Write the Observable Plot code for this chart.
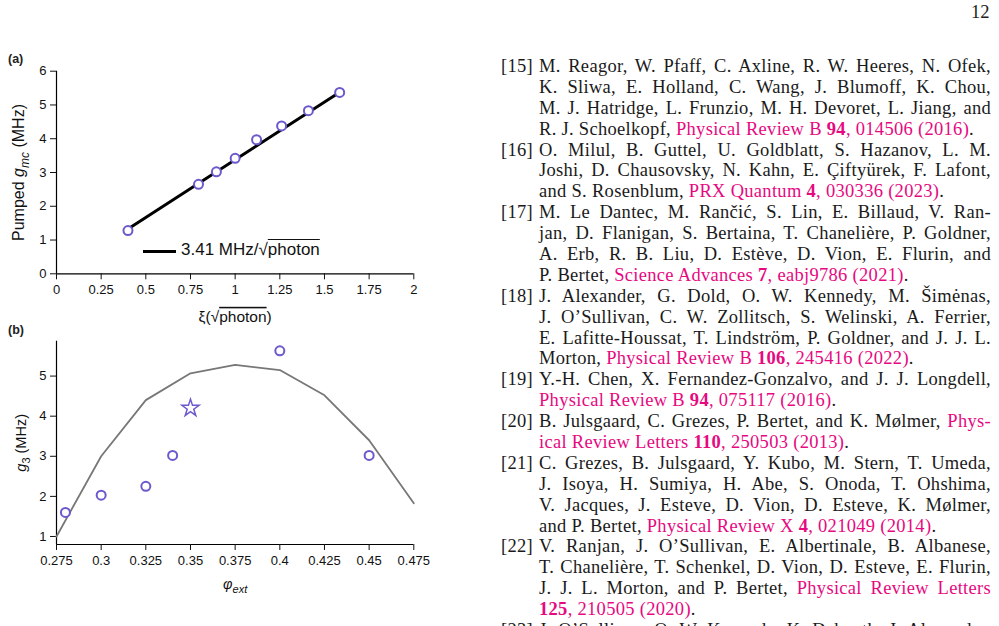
<!DOCTYPE html>
<html><head><meta charset="utf-8">
<script src="https://cdn.jsdelivr.net/npm/d3@7"></script>
<script src="https://cdn.jsdelivr.net/npm/@observablehq/plot@0.6"></script>
<style>
body{margin:0;width:999px;height:626px;overflow:hidden;background:#fff;position:relative;font-family:"Liberation Sans",Arial,sans-serif;color:#111}
.abs{position:absolute}
.panel{position:absolute;font-weight:bold;font-size:12.5px;color:#222}
#refs{position:absolute;left:539px;top:56px;width:452px;font-family:"Liberation Serif","Times New Roman",serif;font-size:18.5px;letter-spacing:0.3px;color:#1a1a1a}
.ln{height:20.9px;line-height:20.9px;white-space:nowrap;text-align:justify;text-align-last:justify;position:relative}
.ln.last{text-align:left;text-align-last:left}
.num{position:absolute;right:458px;text-align:right;text-align-last:right}
.lk{color:#e6097f}
#pageno{position:absolute;left:971px;top:2px;font-family:"Liberation Serif",serif;font-size:18.5px;color:#222}
#legA{position:absolute;left:143px;top:239px;font-size:17px;white-space:nowrap}
#legA .bar{position:absolute;left:0;top:11px;width:33px;height:3px;background:#000}
#legA .txt{position:absolute;left:38px;top:0;line-height:22px}
.ov{text-decoration:overline}
</style>
</head><body>
<div id="pageno">12</div>
<div class="panel" style="left:8px;top:52px">(a)</div>
<div class="panel" style="left:8px;top:323px">(b)</div>
<div id="plotA" class="abs" style="left:0;top:50px"></div>
<div id="plotB" class="abs" style="left:0;top:320px"></div>
<div id="legA"><div class="bar"></div><div class="txt">3.41 MHz/√<span class="ov">photon</span></div></div>
<div id="refs">
<div class="ln"><span class="num">[15]</span>M. Reagor, W. Pfaff, C. Axline, R. W. Heeres, N. Ofek,</div>
<div class="ln">K. Sliwa, E. Holland, C. Wang, J. Blumoff, K. Chou,</div>
<div class="ln">M. J. Hatridge, L. Frunzio, M. H. Devoret, L. Jiang, and</div>
<div class="ln last">R. J. Schoelkopf, <span class="lk">Physical Review B <b>94</b>, 014506 (2016)</span>.</div>
<div class="ln"><span class="num">[16]</span>O. Milul, B. Guttel, U. Goldblatt, S. Hazanov, L. M.</div>
<div class="ln">Joshi, D. Chausovsky, N. Kahn, E. Çiftyürek, F. Lafont,</div>
<div class="ln last">and S. Rosenblum, <span class="lk">PRX Quantum <b>4</b>, 030336 (2023)</span>.</div>
<div class="ln"><span class="num">[17]</span>M. Le Dantec, M. Rančić, S. Lin, E. Billaud, V. Ran-</div>
<div class="ln">jan, D. Flanigan, S. Bertaina, T. Chanelière, P. Goldner,</div>
<div class="ln">A. Erb, R. B. Liu, D. Estève, D. Vion, E. Flurin, and</div>
<div class="ln last">P. Bertet, <span class="lk">Science Advances <b>7</b>, eabj9786 (2021)</span>.</div>
<div class="ln"><span class="num">[18]</span>J. Alexander, G. Dold, O. W. Kennedy, M. Šimėnas,</div>
<div class="ln">J. O’Sullivan, C. W. Zollitsch, S. Welinski, A. Ferrier,</div>
<div class="ln">E. Lafitte-Houssat, T. Lindström, P. Goldner, and J. J. L.</div>
<div class="ln last">Morton, <span class="lk">Physical Review B <b>106</b>, 245416 (2022)</span>.</div>
<div class="ln"><span class="num">[19]</span>Y.-H. Chen, X. Fernandez-Gonzalvo, and J. J. Longdell,</div>
<div class="ln last"><span class="lk">Physical Review B <b>94</b>, 075117 (2016)</span>.</div>
<div class="ln"><span class="num">[20]</span>B. Julsgaard, C. Grezes, P. Bertet, and K. Mølmer, <span class="lk">Phys-</span></div>
<div class="ln last"><span class="lk">ical Review Letters <b>110</b>, 250503 (2013)</span>.</div>
<div class="ln"><span class="num">[21]</span>C. Grezes, B. Julsgaard, Y. Kubo, M. Stern, T. Umeda,</div>
<div class="ln">J. Isoya, H. Sumiya, H. Abe, S. Onoda, T. Ohshima,</div>
<div class="ln">V. Jacques, J. Esteve, D. Vion, D. Esteve, K. Mølmer,</div>
<div class="ln last">and P. Bertet, <span class="lk">Physical Review X <b>4</b>, 021049 (2014)</span>.</div>
<div class="ln"><span class="num">[22]</span>V. Ranjan, J. O’Sullivan, E. Albertinale, B. Albanese,</div>
<div class="ln">T. Chanelière, T. Schenkel, D. Vion, D. Esteve, E. Flurin,</div>
<div class="ln">J. J. L. Morton, and P. Bertet, <span class="lk">Physical Review Letters</span></div>
<div class="ln last"><span class="lk"><b>125</b>, 210505 (2020)</span>.</div>
<div class="ln"><span class="num">[23]</span>J. O’Sullivan, O. W. Kennedy, K. Debnath, J. Alexander,</div>
</div>
<script>
// ---- Panel (a) data ----
const xiPhoton = [0.4, 0.795, 0.895, 1.0, 1.12, 1.26, 1.41, 1.585];
const gmcPumped = [1.28, 2.65, 3.02, 3.42, 3.97, 4.38, 4.83, 5.37];
const fitXi = [0.4, 1.585];
const fitGmc = [1.33, 5.38];
const xTicksA = [0, 0.25, 0.5, 0.75, 1, 1.25, 1.5, 1.75, 2];
const yTicksA = [0, 1, 2, 3, 4, 5, 6];
const xDomainA = [0, 2];
const yDomainA = [0, 6];

// ---- Panel (b) data ----
const phiModel = [0.275, 0.3, 0.325, 0.35, 0.375, 0.4, 0.425, 0.45, 0.475];
const g3Model = [1.0, 3.0, 4.4, 5.07, 5.28, 5.15, 4.52, 3.4, 1.83];
const phiMeas = [0.28, 0.3, 0.325, 0.34, 0.4, 0.45];
const g3Meas = [1.6, 2.03, 2.25, 3.02, 5.63, 3.02];
const phiStar = [0.35];
const g3Star = [4.2];
const xTicksB = [0.275, 0.3, 0.325, 0.35, 0.375, 0.4, 0.425, 0.45, 0.475];
const yTicksB = [1, 2, 3, 4, 5];
const xDomainB = [0.275, 0.475];
const yDomainB = [0.8, 5.87];

const purple = "#6a5acd";
const font = "'Liberation Sans', Arial, sans-serif";

const ptsA = xiPhoton.map((x, i) => ({x, y: gmcPumped[i]}));
const fitA = fitXi.map((x, i) => ({x, y: fitGmc[i]}));
const modelB = phiModel.map((x, i) => ({x, y: g3Model[i]}));
const measB = phiMeas.map((x, i) => ({x, y: g3Meas[i]}));
const starB = phiStar.map((x, i) => ({x, y: g3Star[i]}));

const common = {
  width: 430, height: 280,
  marginLeft: 56, marginRight: 16.7, marginTop: 20.7,
  style: {fontFamily: font, fontSize: "13px", color: "#111", background: "transparent", overflow: "visible"}
};
const fmt = d => String(d);

const plotA = Plot.plot({
  ...common,
  marginBottom: 56.7,
  x: {domain: xDomainA},
  y: {domain: yDomainA},
  marks: [
    Plot.ruleX([xDomainA[0]], {stroke: "#000", strokeWidth: 1.2}),
    Plot.ruleY([yDomainA[0]], {stroke: "#000", strokeWidth: 1.2}),
    Plot.axisX(xTicksA, {tickSize: 6, tickPadding: 5, tickFormat: fmt, label: "XLABELA", labelArrow: "none", labelAnchor: "center", labelOffset: 48}),
    Plot.axisY(yTicksA, {tickSize: 6, tickPadding: 4, tickFormat: fmt, label: "YLABELA", labelArrow: "none", labelAnchor: "center", labelOffset: 44}),
    Plot.line(fitA, {x: "x", y: "y", stroke: "#000", strokeWidth: 3}),
    Plot.dot(ptsA, {x: "x", y: "y", r: 4.5, stroke: purple, strokeWidth: 2, fill: "white"})
  ]
});

const plotB = Plot.plot({
  ...common,
  marginBottom: 56,
  x: {domain: xDomainB},
  y: {domain: yDomainB},
  marks: [
    Plot.ruleX([xDomainB[0]], {stroke: "#000", strokeWidth: 1.2}),
    Plot.ruleY([yDomainB[0]], {stroke: "#000", strokeWidth: 1.2}),
    Plot.axisX(xTicksB, {tickSize: 6, tickPadding: 5, tickFormat: fmt, label: "XLABELB", labelArrow: "none", labelAnchor: "center", labelOffset: 44}),
    Plot.axisY(yTicksB, {tickSize: 6, tickPadding: 4, tickFormat: fmt, label: "YLABELB", labelArrow: "none", labelAnchor: "center", labelOffset: 41}),
    Plot.line(modelB, {x: "x", y: "y", stroke: "#777", strokeWidth: 1.8}),
    Plot.dot(measB, {x: "x", y: "y", r: 4.5, stroke: purple, strokeWidth: 2, fill: "white"}),
    Plot.dot(starB, {x: "x", y: "y", r: 5.4, symbol: "star", stroke: purple, strokeWidth: 1.5, fill: "white"})
  ]
});

function richen(svg, key, parts, size) {
  d3.select(svg).selectAll("text").filter(function () { return this.textContent.trim().startsWith(key); }).each(function () {
    const t = d3.select(this);
    t.selectAll("*").remove();
    t.text(null).style("font-size", size + "px");
    let shift = 0;
    for (const p of parts) {
      const s = t.append("tspan").text(p.t);
      if (p.i) s.style("font-style", "italic");
      if (p.o) s.style("text-decoration", "overline");
      const target = p.sub ? Math.round(size * 0.3) : 0;
      if (target !== shift) { s.attr("dy", target - shift); shift = target; }
      if (p.sub) s.style("font-size", Math.round(size * 0.75) + "px");
    }
  });
}

richen(plotA, "XLABELA", [{t: "ξ("}, {t: "√"}, {t: "photon", o: true}, {t: ")"}], 15.5);
richen(plotA, "YLABELA", [{t: "Pumped "}, {t: "g", i: true}, {t: "mc", i: true, sub: true}, {t: " (MHz)"}], 16);
richen(plotB, "XLABELB", [{t: "φ", i: true}, {t: "ext", i: true, sub: true}], 14.5);
richen(plotB, "YLABELB", [{t: "g", i: true}, {t: "3", sub: true}, {t: " (MHz)"}], 14.5);

document.getElementById("plotA").append(plotA);
document.getElementById("plotB").append(plotB);
</script>
</body></html>
